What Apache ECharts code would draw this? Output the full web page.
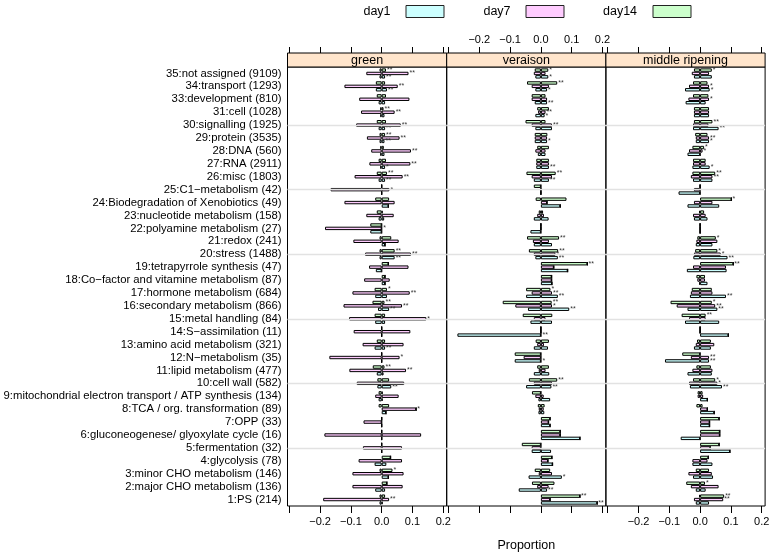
<!DOCTYPE html>
<html><head><meta charset="utf-8">
<script src="https://cdn.jsdelivr.net/npm/echarts@6/dist/echarts.min.js"></script>
<style>html,body{margin:0;padding:0;background:#fff}#c{width:773px;height:558px}</style>
</head><body><div id="c"></div>
<script>
const categories = ['1:PS (214)','2:major CHO metabolism (136)','3:minor CHO metabolism (146)','4:glycolysis (78)','5:fermentation (32)','6:gluconeogenese/ glyoxylate cycle (16)','7:OPP (33)','8:TCA / org. transformation (89)','9:mitochondrial electron transport / ATP synthesis (134)','10:cell wall (582)','11:lipid metabolism (477)','12:N\u2212metabolism (35)','13:amino acid metabolism (321)','14:S\u2212assimilation (11)','15:metal handling (84)','16:secondary metabolism (866)','17:hormone metabolism (684)','18:Co\u2212factor and vitamine metabolism (87)','19:tetrapyrrole synthesis (47)','20:stress (1488)','21:redox (241)','22:polyamine metabolism (27)','23:nucleotide metabolism (158)','24:Biodegradation of Xenobiotics (49)','25:C1\u2212metabolism (42)','26:misc (1803)','27:RNA (2911)','28:DNA (560)','29:protein (3535)','30:signalling (1925)','31:cell (1028)','33:development (810)','34:transport (1293)','35:not assigned (9109)'];
const panels = ['green','veraison','middle ripening'];
const days = ['day1','day7','day14'];
const referenceRows = [5,10,15,20,25,30];
const tickValues = [-0.3,-0.2,-0.1,0,0.1,0.2];
const labelValues = [-0.2,-0.1,0,0.1,0.2];

// ---- green ----
const green_day1_up   = [0.003,0.011,0.022,0.015,0,0,0,0.014,0.003,0.031,0.006,0,0.011,0,0.011,0.024,0.017,0.011,0,0.042,0.011,0,0.008,0.022,0,0.011,0.011,0.009,0.009,0.011,0.009,0.011,0.017,0.011];
const green_day1_down = [-0.007,-0.021,0,-0.023,0,0,0,0,-0.010,-0.014,-0.016,0,-0.023,0,-0.021,-0.012,-0.021,0,-0.019,-0.007,0,-0.037,-0.010,0,0,-0.010,-0.005,-0.005,-0.007,-0.010,-0.005,-0.010,-0.019,-0.007];
const green_day1_sig  = ['','','','','','','','','','**','','','**','','','**','','','','**','','','','','','**','*','','**','**','','','**','**'];
const green_day7_up   = [0.024,0.068,0.071,0.066,0.066,0.128,0,0.112,0.055,0.073,0.079,0.058,0.071,0.093,0.145,0.066,0.091,0.026,0.087,0.095,0.055,0,0.039,0.042,0.025,0.068,0.093,0.095,0.058,0.062,0.042,0.090,0.052,0.087];
const green_day7_down = [-0.190,-0.095,-0.095,-0.075,-0.061,-0.186,-0.059,0,-0.021,-0.081,-0.105,-0.170,-0.062,-0.091,-0.106,-0.124,-0.095,-0.057,-0.041,-0.054,-0.092,-0.184,-0.050,-0.121,-0.166,-0.088,-0.040,-0.034,-0.048,-0.083,-0.067,-0.073,-0.121,-0.050];
const green_day7_sig  = ['**','','','','','','','*','','','**','*','','','*','**','**','','','**','','*','','','*','**','**','**','**','**','**','','**','**'];
const green_day14_up   = [0.011,0.017,0.035,0.029,0,0,0,0.024,0.003,0.024,0.009,0,0.011,0,0.011,0.009,0.017,0.011,0.022,0.042,0.031,0,0.003,0.024,0,0.017,0.014,0.007,0.011,0.014,0.006,0.014,0.011,0.014];
const green_day14_down = [-0.007,0,-0.007,0,0,0,0,-0.010,-0.010,-0.014,-0.029,0,-0.016,0,-0.023,-0.030,-0.023,0,0,-0.007,-0.007,-0.037,-0.016,-0.021,0,-0.016,-0.010,-0.005,-0.007,-0.016,-0.005,-0.016,-0.019,-0.007];
const green_day14_sig  = ['','','*','','','','','','','','**','','','','','**','*','','','**','','','','','','**','','','**','','**','','','**'];

// ---- veraison ----
const veraison_day1_up   = [0.183,0.020,0.068,0.038,0.033,0.127,0.030,0.011,0.030,0.034,0.027,0,0.023,0,0.036,0.092,0.055,0.036,0.087,0.055,0.036,0,0.025,0.063,0,0.026,0.026,0.015,0.020,0.036,0.012,0.020,0.020,0.024];
const veraison_day1_down = [0,-0.072,-0.040,0,-0.030,0,0,-0.008,-0.008,-0.048,-0.023,-0.085,-0.023,-0.271,-0.034,-0.042,-0.048,0,0,-0.018,-0.023,-0.034,-0.023,0,0,-0.023,-0.015,-0.010,-0.020,-0.018,-0.018,-0.020,-0.018,-0.018];
const veraison_day1_sig  = ['**','**','*','','','','','','','**','','*','','**','','**','**','','','**','','','','','','**','**','','*','','*','**','*','*'];
const veraison_day7_up   = [0.030,0.025,0.036,0.023,0,0.063,0.025,0.009,0.009,0.036,0.015,0,0.010,0,0.015,0.036,0.036,0.035,0.042,0.047,0.026,0,0.010,0.020,0,0.036,0.026,0.015,0.020,0.036,0.015,0.020,0.026,0.015];
const veraison_day7_down = [0,-0.012,-0.007,0,-0.030,0,0,-0.007,-0.018,-0.023,-0.007,-0.056,-0.012,0,-0.023,-0.083,-0.030,0,0,-0.023,-0.026,0,-0.012,0,0,-0.030,-0.015,-0.018,-0.020,-0.030,-0.009,-0.030,-0.030,-0.023];
const veraison_day7_sig  = ['','','','','','','','','','','','','','','','*','**','','','*','','','','','','','','','','**','**','','',''];
const veraison_day14_up   = [0.127,0.044,0.030,0.036,0,0.063,0.030,0.012,0,0.053,0.026,0,0.026,0,0.037,0.035,0.031,0.035,0.151,0.056,0.059,0,0.007,0.083,0,0.048,0.026,0.026,0.021,0.015,0.026,0.015,0.053,0.024];
const veraison_day14_down = [0,-0.029,-0.020,0,-0.062,0,0,-0.010,-0.029,-0.039,-0.012,-0.085,-0.017,0,-0.059,-0.124,-0.048,0,0,-0.039,-0.045,0,-0.007,-0.017,-0.023,-0.047,-0.015,-0.012,-0.020,-0.050,-0.012,-0.030,-0.045,-0.020];
const veraison_day14_sig  = ['**','','','','','','','','','**','','','','','','**','*','','**','**','**','','','','','**','','','','','','','**','*'];

// ---- middle ripening ----
const ripening_day1_up   = [0.029,0.018,0.042,0.040,0.097,0,0.031,0.046,0.024,0.071,0.038,0.029,0.035,0.092,0.062,0.056,0.084,0.024,0.086,0.089,0.040,0,0.024,0.062,0,0.040,0.031,0,0.029,0.060,0.029,0.018,0.031,0.038];
const ripening_day1_down = [-0.014,-0.014,-0.023,-0.025,0,-0.063,0,0,0,-0.033,-0.041,-0.114,-0.020,0,-0.049,-0.041,-0.033,-0.003,-0.043,-0.022,-0.014,0,-0.020,-0.041,-0.070,-0.023,-0.025,-0.041,-0.014,-0.023,-0.020,-0.047,-0.049,-0.020];
const ripening_day1_sig  = ['','','','','','','','','','**','','**','','','','**','**','','','**','','','','','','','*','','*','**','','','*',''];
const ripening_day7_up   = [0.075,0.060,0.038,0.024,0.033,0.064,0.031,0.024,0.010,0.056,0.040,0.029,0.046,0,0.018,0.049,0.040,0.016,0.084,0.067,0.056,0,0.018,0.040,0,0.040,0.018,0.008,0.029,0.027,0.029,0.029,0.029,0.029];
const ripening_day7_down = [-0.020,-0.030,-0.038,-0.025,0,0,0,0,-0.008,-0.036,-0.025,-0.030,-0.014,0,-0.036,-0.076,-0.030,-0.009,-0.023,-0.020,-0.012,0,-0.023,-0.020,-0.020,-0.030,-0.023,-0.036,-0.014,-0.023,-0.020,-0.038,-0.036,-0.027];
const ripening_day7_sig  = ['**','','','','','','','','','*','','**','','','','**','','','','*','','','','','','**','','*','**','','','*','*',''];
const ripening_day14_up   = [0.078,0.016,0.029,0.027,0.062,0.064,0.062,0.008,0.008,0.049,0.035,0,0.035,0,0.018,0.038,0.038,0.016,0.108,0.056,0.051,0,0.013,0.102,0,0.049,0.018,0.013,0.024,0.040,0.029,0.027,0.024,0.038];
const ripening_day14_down = [-0.003,-0.045,-0.014,0,0,0,0,-0.012,-0.008,-0.023,-0.012,-0.058,-0.010,0,-0.060,-0.096,-0.027,-0.012,0,-0.016,-0.009,0,-0.003,0,0,-0.025,-0.023,-0.025,-0.016,-0.020,-0.020,-0.023,-0.023,-0.020];
const ripening_day14_sig  = ['**','*','','','','','','','','*','','','','','**','*','','','**','*','*','','','*','','**','','*','','**','','','','*'];

const dataSets = [
  [[green_day1_up,green_day1_down,green_day1_sig],[green_day7_up,green_day7_down,green_day7_sig],[green_day14_up,green_day14_down,green_day14_sig]],
  [[veraison_day1_up,veraison_day1_down,veraison_day1_sig],[veraison_day7_up,veraison_day7_down,veraison_day7_sig],[veraison_day14_up,veraison_day14_down,veraison_day14_sig]],
  [[ripening_day1_up,ripening_day1_down,ripening_day1_sig],[ripening_day7_up,ripening_day7_down,ripening_day7_sig],[ripening_day14_up,ripening_day14_down,ripening_day14_sig]]
];
const dayColors = ['#CCFFFF','#FFCCFF','#CCFFCC'];

const FONT = 'Liberation Sans, Arial, Helvetica, sans-serif';
const PL = 287.5, PW = 159.2, PT = 67, PH = 439, STRIP = 14;
const XMIN = -0.3058, XMAX = 0.211;
const fmt = v => (v < -1e-9 ? '\u2212' : '') + Math.abs(v).toFixed(1);

const grids = [], xAxes = [], yAxes = [], series = [], graphics = [];
panels.forEach((p, i) => {
  const left = PL + i * PW;
  grids.push({left: left, top: PT, width: PW, height: PH, show: true, borderColor: '#000', borderWidth: 1, backgroundColor: 'transparent', containLabel: false});
  xAxes.push({type: 'value', gridIndex: i, min: XMIN, max: XMAX, position: 'bottom',
    axisLine: {show: false}, splitLine: {show: false},
    axisTick: {show: true, inside: false, length: 7, lineStyle: {color: '#000', width: 1}, customValues: tickValues},
    axisLabel: {show: i !== 1, margin: 10, fontSize: 11, color: '#000', fontFamily: FONT, formatter: fmt, customValues: labelValues}});
  xAxes.push({type: 'value', gridIndex: i, min: XMIN, max: XMAX, position: 'top', offset: STRIP,
    axisLine: {show: false}, splitLine: {show: false},
    axisTick: {show: true, inside: false, length: 6, lineStyle: {color: '#000', width: 1}, customValues: tickValues},
    axisLabel: {show: i === 1, margin: 8, fontSize: 11, color: '#000', fontFamily: FONT, formatter: fmt, customValues: labelValues}});
  yAxes.push({type: 'category', gridIndex: i, data: categories, boundaryGap: true,
    axisLine: {show: false}, axisTick: {show: false}, splitLine: {show: false},
    axisLabel: {show: i === 0, margin: 6, fontSize: 11.3, color: '#000', fontFamily: FONT, interval: 0}});
  series.push({type: 'line', xAxisIndex: 2 * i, yAxisIndex: i, data: [], z: 1, silent: true,
    markLine: {silent: true, symbol: 'none', label: {show: false},
      lineStyle: {color: '#e2e2e2', width: 1.3, type: 'solid'},
      data: referenceRows.map(r => ({yAxis: categories.findIndex(c => c.startsWith(r + ':'))}))}});
  // ECharts stacks the first bar slot at the top of a horizontal category band,
  // so day14 goes first to put day1 at the bottom as in the reference.
  [2, 1, 0].forEach(k => {
    const d = days[k];
    const [up, down, sig] = dataSets[i][k];
    const common = {type: 'bar', xAxisIndex: 2 * i, yAxisIndex: i, stack: p + d, barWidth: 3.4, barGap: '0%', z: 3,
      itemStyle: {color: dayColors[k], borderColor: '#000', borderWidth: 1}, silent: true, animation: false};
    series.push(Object.assign({}, common, {name: d, data: up,
      label: {show: true, position: 'right', distance: 1, fontSize: 7, color: '#333', fontFamily: FONT,
        formatter: pr => sig[pr.dataIndex] || ''}}));
    series.push(Object.assign({}, common, {name: d + ' down', data: down}));
  });
  graphics.push({type: 'rect', shape: {x: left, y: PT - STRIP, width: PW, height: STRIP},
    style: {fill: '#FFE5CC', stroke: '#000', lineWidth: 1}, z: 10});
  graphics.push({type: 'text', x: left + PW / 2, y: PT - STRIP / 2 + 0.5,
    style: {text: p, fill: '#000', font: '12.5px ' + FONT, textAlign: 'center', textVerticalAlign: 'middle'}, z: 11});
});
const legendPos = [[377, 406], [497, 526], [620, 653]];
days.forEach((d, k) => {
  graphics.push({type: 'text', x: legendPos[k][0], y: 11.5,
    style: {text: d, fill: '#000', font: '12.5px ' + FONT, textAlign: 'center', textVerticalAlign: 'middle'}});
  graphics.push({type: 'rect', shape: {x: legendPos[k][1], y: 5.5, width: 38, height: 12},
    style: {fill: dayColors[k], stroke: '#222', lineWidth: 1}});
});
graphics.push({type: 'text', x: PL + 1.5 * PW, y: 546,
  style: {text: 'Proportion', fill: '#000', font: '12.5px ' + FONT, textAlign: 'center', textVerticalAlign: 'middle'}});

const chart = echarts.init(document.getElementById('c'), null, {renderer: 'canvas'});
chart.setOption({animation: false, grid: grids, xAxis: xAxes, yAxis: yAxes, series: series, graphic: graphics});
</script></body></html>
